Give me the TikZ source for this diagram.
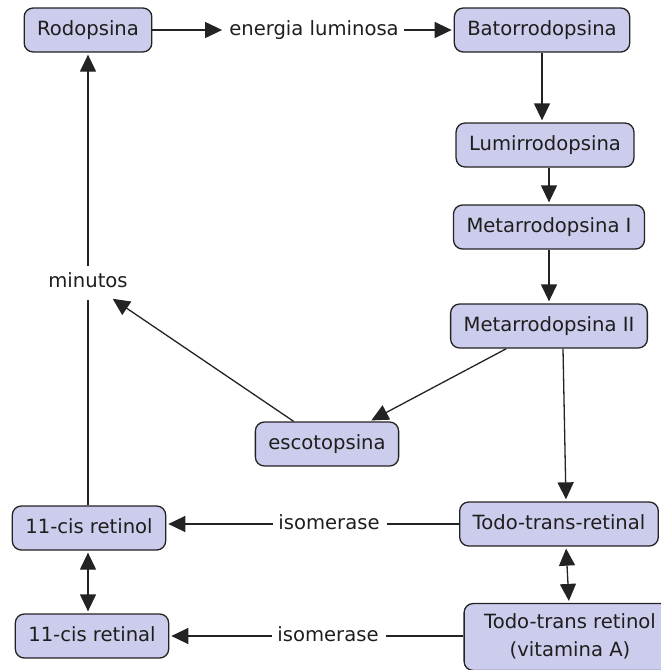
\documentclass[tikz,border=0pt]{standalone}
\usepackage{fontspec}
\setmainfont{DejaVu Sans}
\usetikzlibrary{arrows.meta}
\definecolor{boxfill}{RGB}{204,204,236}
\definecolor{boxline}{RGB}{35,35,35}
\definecolor{txt}{RGB}{30,30,30}
\tikzset{
  concept/.style={draw=boxline, fill=boxfill, line width=1.3pt, rounded corners=9pt,
    inner xsep=13pt, minimum height=44pt, text depth=4pt, text=txt,
    font=\fontsize{19.6}{28}\selectfont},
  phrase/.style={inner xsep=5pt, inner ysep=6pt, text=txt, text depth=4pt,
    font=\fontsize{19.6}{28}\selectfont},
  link/.style={line width=1.3pt, draw=boxline, shorten >=2pt},
  >={Triangle[length=17pt,width=16pt]}
}
\begin{document}
\begin{tikzpicture}[x=1pt,y=-1pt]
\useasboundingbox (0,0) rectangle (661,670);
\clip (0,0) rectangle (661,670);

\node[concept] (rod) at (88,30) {Rodopsina};
\node[phrase] (energia) at (314,30) {energia luminosa};
\node[concept] (bat) at (542,30) {Batorrodopsina};
\node[concept] (lumi) at (545,145) {Lumirrodopsina};
\node[concept] (meta1) at (549,227) {Metarrodopsina I};
\node[concept] (meta2) at (549,326) {Metarrodopsina II};
\node[concept] (esco) at (327,444) {escotopsina};
\node[phrase] (minutos) at (88,282) {minutos};

\node[concept] (cisrol) at (89,528) {11-cis retinol};
\node[concept] (cisral) at (92,636) {11-cis retinal};
\node[concept] (ttral) at (559,524) {Todo-trans-retinal};
\node[concept, align=center, inner xsep=20pt, inner ysep=10pt] (ttrol) at (570,637) {Todo-trans retinol\\(vitamina A)};
\node[phrase] (iso1) at (329,524) {isomerase};
\node[phrase] (iso2) at (328,636) {isomerase};

\draw[link,->] (rod) -- (energia);
\draw[link,->] (energia) -- (bat);
\draw[link,->] (bat) -- (bat.south |- lumi.north);
\draw[link,->] ([xshift=4pt]lumi.south) -- (meta1.north);
\draw[link,->] (meta1) -- (meta2);
\draw[link,->] (meta2) -- (esco);
\draw[link,->] ([xshift=14pt]meta2.south) -- ([xshift=7pt]ttral.north);
\draw[link,<->, shorten <=2pt] ([xshift=7pt]ttral.south) -- ([xshift=-1pt]ttrol.north);

\draw[link] (ttral) -- (iso1);
\draw[link,->] (iso1) -- (iso1 -| cisrol.east);
\draw[link] (ttrol.west |- iso2) -- (iso2);
\draw[link,->] (iso2) -- (cisral);

\draw[link,<->, shorten <=2pt] (cisrol.south -| minutos) -- (minutos |- cisral.north);
\draw[link] (cisrol.north -| minutos) -- (minutos);
\draw[link,->] (esco) -- (minutos);
\draw[link,->] (minutos) -- (rod);
\end{tikzpicture}
\end{document}
